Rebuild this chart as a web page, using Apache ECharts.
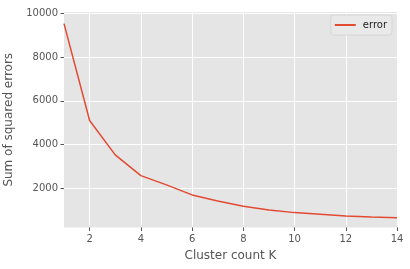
<!DOCTYPE html>
<html>
<head>
<meta charset="utf-8">
<script src="https://cdn.jsdelivr.net/npm/echarts@6/dist/echarts.min.js"></script>
<style>html,body{margin:0;padding:0;background:#fff}#c{width:410px;height:269px}</style>
</head>
<body>
<div id="c"></div>
<script>
var ks = [1, 2, 3, 4, 5, 6, 7, 8, 9, 10, 11, 12, 13, 14];
var errors = [9530, 5100, 3530, 2580, 2160, 1700, 1420, 1180, 1010, 890, 815, 740, 690, 650];
var xTicks = [2, 4, 6, 8, 10, 12, 14];
var yTicks = [2000, 4000, 6000, 8000, 10000];
var seriesName = 'error';

var font = 'DejaVu Sans';
var chart = echarts.init(document.getElementById('c'));
chart.setOption({
  animation: false,
  backgroundColor: '#ffffff',
  textStyle: {fontFamily: font},
  grid: {left: 64, right: 13, top: 12, bottom: 41.5, show: true, backgroundColor: '#E5E5E5', borderWidth: 0,
         containLabel: false, outerBoundsMode: 'none'},
  legend: {
    right: 18, top: 15, orient: 'vertical',
    padding: [5, 5, 5, 4],
    itemWidth: 21, itemHeight: 2, itemGap: 4,
    icon: 'rect',
    backgroundColor: '#E9E9E9', borderColor: '#D6D6D6', borderWidth: 1, borderRadius: 3,
    textStyle: {fontSize: 10, color: '#222', fontFamily: font, padding: [0, 0, 0, 2]},
    data: [seriesName]
  },
  xAxis: {
    type: 'value', min: 1, max: 14,
    name: 'Cluster count K', nameLocation: 'middle', nameGap: 21,
    nameTextStyle: {fontSize: 12, color: '#555', fontFamily: font},
    axisLine: {show: false},
    axisTick: {show: true, length: 3.5, lineStyle: {color: '#555', width: 1}, customValues: xTicks},
    axisLabel: {fontSize: 10, color: '#555', margin: 7, fontFamily: font, customValues: xTicks,
                formatter: function (v) { return String(v); }},
    splitLine: {show: true, lineStyle: {color: '#ffffff', width: 1}}
  },
  yAxis: {
    type: 'value', min: 210, max: 10060,
    name: 'Sum of squared errors', nameLocation: 'middle', nameGap: 42,
    nameTextStyle: {fontSize: 12, color: '#555', fontFamily: font},
    axisLine: {show: false},
    axisTick: {show: true, length: 3.5, lineStyle: {color: '#555', width: 1}, customValues: yTicks},
    axisLabel: {fontSize: 10, color: '#555', margin: 6, fontFamily: font, customValues: yTicks,
                formatter: function (v) { return String(v); }},
    splitLine: {show: true, lineStyle: {color: '#ffffff', width: 1}}
  },
  series: [{
    name: seriesName, type: 'line', symbol: 'none',
    lineStyle: {color: '#E24A33', width: 1.5},
    itemStyle: {color: '#E24A33'},
    data: ks.map(function (k, i) { return [k, errors[i]]; })
  }]
});
</script>
</body>
</html>
